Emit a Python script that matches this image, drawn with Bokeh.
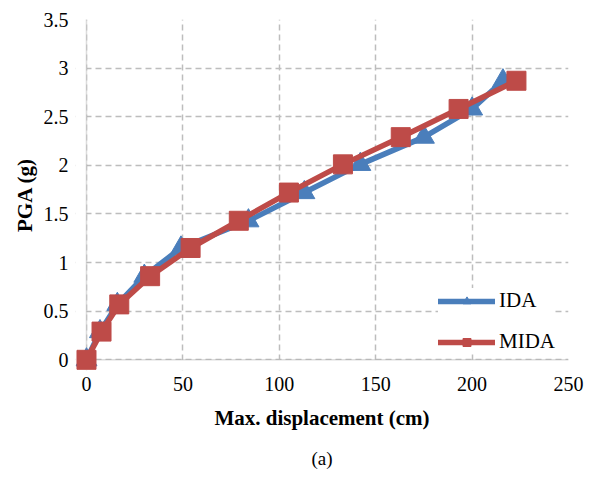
from bokeh.plotting import figure
from bokeh.models import Range1d, FixedTicker, Legend, LegendItem, Title, BoxAnnotation
from bokeh.embed import file_html
from bokeh.resources import INLINE

pga = [0, 0.29, 0.57, 0.86, 1.15, 1.43, 1.72, 2.01, 2.29, 2.58, 2.87]
ida_disp = [0, 7, 16, 30, 49, 84, 113, 142, 175, 200, 216]
mida_disp = [0, 7.8, 17, 33, 54, 79, 105, 133, 163, 193, 223]
x_ticks = [0, 50, 100, 150, 200, 250]
y_ticks = [0, 0.5, 1, 1.5, 2, 2.5, 3, 3.5]

BLUE = "#4a7ebb"
RED = "#be4b48"
AXIS = "#8c8c8c"
FONT = "Liberation Serif"

p = figure(width=595, height=481, output_backend="svg", toolbar_location=None,
           x_range=Range1d(-5.7, 250), y_range=Range1d(-0.11, 3.5),
           min_border_left=75, min_border_right=27, min_border_top=19, min_border_bottom=109)
p.outline_line_color = None
p.background_fill_color = "white"
p.border_fill_color = "white"

for ax in (p.xaxis[0], p.yaxis[0]):
    ax.axis_line_color = None
    ax.major_tick_line_color = None
    ax.minor_tick_line_color = None
    ax.major_tick_out = 0
    ax.major_tick_in = 0
    ax.minor_tick_out = 0
    ax.major_label_text_font = FONT
    ax.major_label_text_font_size = "20px"
    ax.major_label_text_color = "#000000"
    ax.axis_label_text_font = FONT
    ax.axis_label_text_font_size = "21px"
    ax.axis_label_text_font_style = "bold"
    ax.axis_label_text_color = "#000000"

p.xaxis.ticker = FixedTicker(ticks=x_ticks)
p.yaxis.ticker = FixedTicker(ticks=y_ticks)
p.yaxis.major_label_overrides = {0: "0", 0.5: "0.5", 1: "1", 1.5: "1.5", 2: "2", 2.5: "2.5", 3: "3", 3.5: "3.5"}
p.xaxis.axis_label = "Max. displacement (cm)"
p.yaxis.axis_label = "PGA (g)"
p.xaxis.major_label_standoff = 6
p.xaxis.axis_label_standoff = 12
p.yaxis.major_label_standoff = 7
p.yaxis.axis_label_standoff = 4

for g in (p.xgrid[0], p.ygrid[0]):
    g.grid_line_color = "#bdbdbd"
    g.grid_line_width = 1.5
    g.grid_line_dash = "6 4"

# hide the parts of the grid that fall outside the 0..max area
p.add_layout(BoxAnnotation(top=0, fill_color="white", fill_alpha=1, line_color=None, level="underlay"))
p.add_layout(BoxAnnotation(right=0, fill_color="white", fill_alpha=1, line_color=None, level="underlay"))
# axis lines at x=0 and y=0
p.add_layout(BoxAnnotation(left=x_ticks[0], right=x_ticks[0], bottom=y_ticks[0], top=y_ticks[-1],
                           fill_alpha=0, line_color=AXIS, line_width=1.5, level="underlay"))
p.add_layout(BoxAnnotation(left=x_ticks[0], right=x_ticks[-1], bottom=y_ticks[0], top=y_ticks[0],
                           fill_alpha=0, line_color=AXIS, line_width=1.5, level="underlay"))

ida_line = p.line(ida_disp, pga, line_color=BLUE, line_width=5.5, line_join="round", line_cap="round")
ida_mark = p.scatter(ida_disp, pga, marker="triangle", size=21, fill_color=BLUE, line_color=BLUE)
mida_line = p.line(mida_disp, pga, line_color=RED, line_width=5.5, line_join="round", line_cap="round")
mida_mark = p.scatter(mida_disp, pga, marker="square", size=19, fill_color=RED, line_color=RED)

legend = Legend(items=[LegendItem(label="IDA", renderers=[ida_line, ida_mark]),
                       LegendItem(label="MIDA", renderers=[mida_line, mida_mark])],
                location=(363, 16), padding=9, margin=0, spacing=16,
                glyph_width=57, glyph_height=20, label_height=21, label_standoff=4,
                label_text_font=FONT, label_text_font_size="21px", label_text_color="#000000",
                background_fill_color="white", background_fill_alpha=1.0,
                border_line_color=None)
p.add_layout(legend, "center")

p.add_layout(Title(text="(a)", align="center", text_font=FONT, text_font_size="19px",
                   text_font_style="normal", text_color="#000000", standoff=26), "below")

open("out.html", "w").write(file_html(p, INLINE))
